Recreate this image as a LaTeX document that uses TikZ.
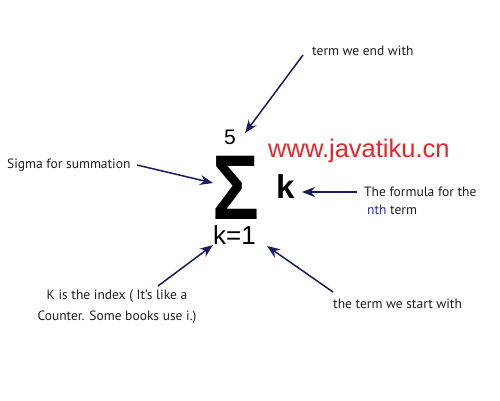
\documentclass[tikz,border=0pt]{standalone}
\usepackage{fontspec}
\usepackage{graphicx}
\setmainfont{PT Sans}
\newfontfamily\symfont{Liberation Sans}
\usetikzlibrary{arrows.meta}
\definecolor{navy}{HTML}{1B1B5E}
\definecolor{wred}{HTML}{E8262A}
\definecolor{nblue}{HTML}{2B2BD6}
\tikzset{
  lbl/.style={inner sep=0pt, font=\fontsize{13.5}{21}\selectfont, text=black!88},
  pointer/.style={draw=navy, line width=1.5pt, -{Stealth[length=13pt,width=10pt]}},
  sym/.style={inner sep=0pt, font=\symfont}
}
\begin{document}
\begin{tikzpicture}[x=1pt,y=-1pt]
\useasboundingbox[fill=white] (0,0) rectangle (500,400);
% symbols
\node[sym, anchor=base west, font=\symfont\fontsize{21}{21}\selectfont] (five) at (224,144) {5};
\node[sym, anchor=base west, font=\symfont\bfseries\fontsize{92}{92}\selectfont] (sigma) at (212,219) {\scalebox{0.85}[1]{Σ}};
\node[sym, anchor=base west, font=\symfont\bfseries\fontsize{33}{33}\selectfont] (k) at (276,198) {k};
\node[sym, anchor=base west, font=\symfont\fontsize{26}{26}\selectfont] (kone) at (213,244) {k=1};
\node[sym, anchor=base west, text=wred, font=\symfont\fontsize{25.5}{25.5}\selectfont] (www) at (268,157) {www.javatiku.cn};
% labels
\node[lbl, anchor=base west] (endl) at (312,55) {term we end with};
\node[lbl, anchor=base west] (sigl) at (7,168) {Sigma for summation};
\node[lbl, anchor=base west] (forl) at (364,196) {The formula for the};
\node[lbl, anchor=base west] (nthl) at (367,214) {\textcolor{nblue}{nth} term};
\node[lbl, align=center, anchor=base] (idxl) at (117,320) {K is the index ( It’s like a\\Counter. Some books use i.)};
\node[lbl, anchor=base west] (startl) at (333,308) {the term we start with};
% arrow endpoints
\coordinate (a1s) at (303,55);  \coordinate (a1e) at (245,133);
\coordinate (a2s) at (137,165); \coordinate (a2e) at (213,183);
\coordinate (a3s) at (357,192); \coordinate (a3e) at (302,192);
\coordinate (a4s) at (158,286); \coordinate (a4e) at (213,245);
\coordinate (a5s) at (333,292); \coordinate (a5e) at (267,246);
\draw[pointer] (a1s) -- (a1e);
\draw[pointer] (a2s) -- (a2e);
\draw[pointer] (a3s) -- (a3e);
\draw[pointer] (a4s) -- (a4e);
\draw[pointer] (a5s) -- (a5e);
\end{tikzpicture}
\end{document}
